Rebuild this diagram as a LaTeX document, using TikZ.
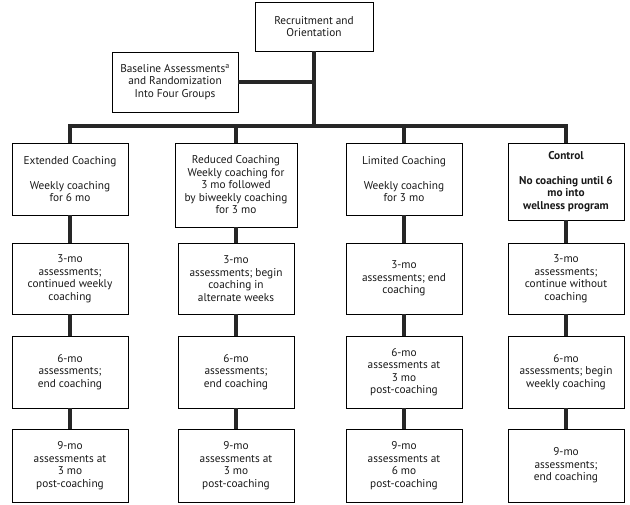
\documentclass[tikz,border=0pt]{standalone}
\usepackage{fontspec}
\setmainfont{PT Sans}
\usepackage{tikz}
\tikzset{
    stage/.style={draw=black, line width=0.8pt, align=center, inner sep=2pt,
        font=\fontsize{11.3}{12.5}\selectfont, text=black!90},
    wide/.style={minimum width=116pt},
    link/.style={draw=black!85, line width=4pt}
}

\begin{document}
\begin{tikzpicture}[x=1pt, y=-1pt]
        \useasboundingbox (0,0) rectangle (630,505);
        \coordinate (hub) at (314,126);

        \node[stage, minimum width=118pt, minimum height=49pt] (recruit) at (314,26.5) {Recruitment and\\Orientation};
        \node[stage, minimum width=126pt, minimum height=60pt] (baseline) at (175,82) {Baseline Assessments\textsuperscript{a}\\and Randomization\\Into Four Groups};

        % groups
        \node[stage, wide, minimum height=72pt] (ext) at (70,179) {Extended Coaching\\[12.5pt]Weekly coaching\\for 6 mo};
        \node[stage, minimum width=122pt, minimum height=84pt] (red) at (236,185) {Reduced Coaching\\Weekly coaching for\\3 mo followed\\by biweekly coaching\\for 3 mo};
        \node[stage, wide, minimum height=72pt] (lim) at (404,179) {Limited Coaching\\[12.5pt]Weekly coaching\\for 3 mo};
        \node[stage, wide, minimum height=77pt, font=\fontsize{11.3}{12.5}\selectfont\bfseries] (ctl) at (566,181.5) {Control\\[12.5pt]No coaching until 6\\mo into\\wellness program};

        % 3-mo
        \node[stage, wide, minimum height=71pt] (ext3) at (70,278.5) {3-mo\\assessments;\\continued weekly\\coaching};
        \node[stage, wide, minimum height=71pt] (red3) at (236,278.5) {3-mo\\assessments; begin\\coaching in\\alternate weeks};
        \node[stage, wide, minimum height=71pt] (lim3) at (404,278.5) {3-mo\\assessments; end\\coaching};
        \node[stage, wide, minimum height=71pt] (ctl3) at (566,278.5) {3-mo\\assessments;\\continue without\\coaching};

        % 6-mo
        \node[stage, wide, minimum height=72pt] (ext6) at (70,372) {6-mo\\assessments;\\end coaching};
        \node[stage, wide, minimum height=72pt] (red6) at (236,372) {6-mo\\assessments;\\end coaching};
        \node[stage, wide, minimum height=72pt] (lim6) at (404,372) {6-mo\\assessments at\\3 mo\\post-coaching};
        \node[stage, wide, minimum height=72pt] (ctl6) at (566,372) {6-mo\\assessments; begin\\weekly coaching};

        % 9-mo
        \node[stage, wide, minimum height=73pt] (ext9) at (70,465.5) {9-mo\\assessments at\\3 mo\\post-coaching};
        \node[stage, wide, minimum height=73pt] (red9) at (236,465.5) {9-mo\\assessments at\\3 mo\\post-coaching};
        \node[stage, wide, minimum height=73pt] (lim9) at (404,465.5) {9-mo\\assessments at\\6 mo\\post-coaching};
        \node[stage, wide, minimum height=73pt] (ctl9) at (566,465.5) {9-mo\\assessments;\\end coaching};

        \draw[link] (recruit.south) -- (hub);
        \draw[link] (baseline.east) -- (baseline.east -| hub);
        \draw[link] (ext.north) |- (hub) -| (ctl.north);
        \draw[link] (red.north) -- (red.north |- hub);
        \draw[link] (lim.north) -- (lim.north |- hub);
        \foreach \g in {ext, red, lim, ctl} {
            \draw[link] (\g.south) -- (\g3.north);
            \draw[link] (\g3.south) -- (\g6.north);
            \draw[link] (\g6.south) -- (\g9.north);
        }
    \end{tikzpicture}
\end{document}
